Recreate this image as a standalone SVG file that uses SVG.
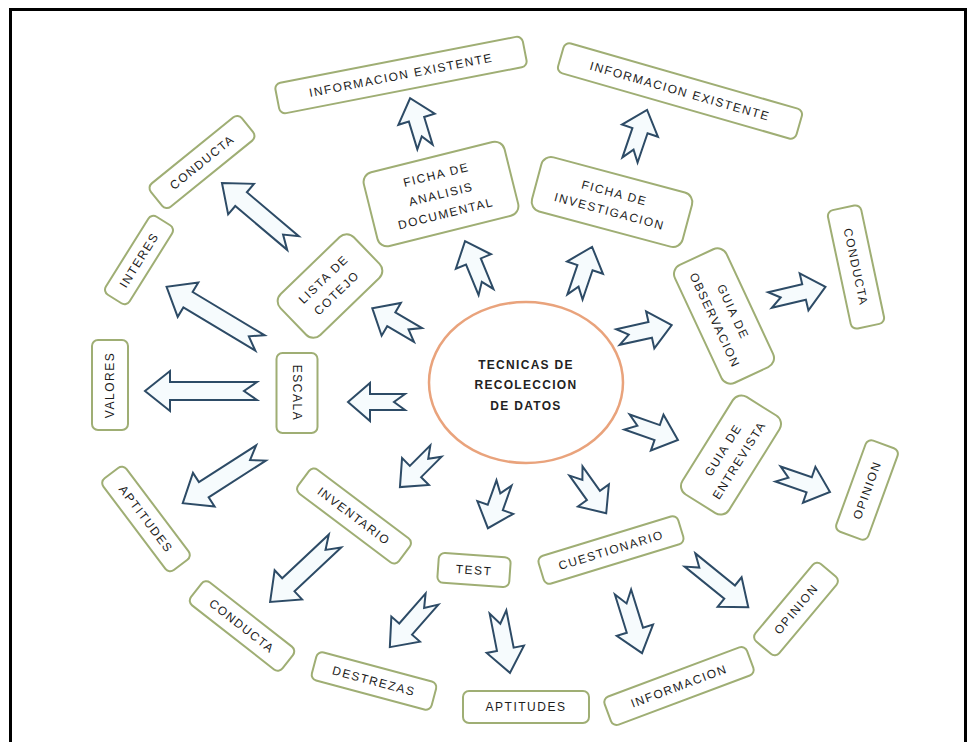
<svg xmlns="http://www.w3.org/2000/svg" width="977" height="742" viewBox="0 0 977 742">
<style>
.box rect{fill:#ffffff;stroke:#9fae74;stroke-width:2}
.box text{font-family:"Liberation Sans",Arial,sans-serif;font-size:12px;letter-spacing:1.5px;fill:#1c1c1c;text-anchor:middle}
.arr path{fill:#f6fbfd;stroke:#2d4b66;stroke-width:2;stroke-linejoin:miter}
.ctr text{font-family:"Liberation Sans",Arial,sans-serif;font-size:12px;font-weight:bold;letter-spacing:1.3px;fill:#222;text-anchor:middle}
</style>
<rect x="0" y="0" width="977" height="742" fill="#ffffff"/>
<rect x="10.5" y="9.5" width="955" height="750" fill="none" stroke="#000" stroke-width="3"/>

<g id="center" class="ctr">
<ellipse cx="526" cy="382.5" rx="97" ry="80.5" fill="#fff" stroke="#e9a37c" stroke-width="2.5"/>
<text x="526" y="369">TECNICAS DE</text>
<text x="526" y="389">RECOLECCION</text>
<text x="526" y="410">DE DATOS</text>
</g>

<g id="connectors" class="arr">
<path transform="translate(425,147) rotate(-107)" d="M0,-8L29,-8L29,-19L51,0L29,19L29,8L0,8L11,0Z"/>
<path transform="translate(630,160) rotate(-71.2)" d="M0,-8L31,-8L31,-19L53,0L31,19L31,8L0,8L11,0Z"/>
<path transform="translate(418,335) rotate(-149.6)" d="M0,-8L31,-8L31,-19L53,0L31,19L31,8L0,8L11,0Z"/>
<path transform="translate(486,292) rotate(-112.4)" d="M0,-8L33,-8L33,-19L55,0L33,19L33,8L0,8L11,0Z"/>
<path transform="translate(575,297) rotate(-71.2)" d="M0,-8L31,-8L31,-19L53,0L31,19L31,8L0,8L11,0Z"/>
<path transform="translate(618,337) rotate(-12.5)" d="M0,-8L33,-8L33,-19L55,0L33,19L33,8L0,8L11,0Z"/>
<path transform="translate(405,402) rotate(180)" d="M0,-8L35,-8L35,-19L57,0L35,19L35,8L0,8L11,0Z"/>
<path transform="translate(627,422) rotate(19.4)" d="M0,-8L32,-8L32,-19L54,0L32,19L32,8L0,8L11,0Z"/>
<path transform="translate(436,451) rotate(135)" d="M0,-8L29,-8L29,-19L51,0L29,19L29,8L0,8L11,0Z"/>
<path transform="translate(504,483) rotate(109.6)" d="M0,-8L26,-8L26,-19L48,0L26,19L26,8L0,8L11,0Z"/>
<path transform="translate(576,471) rotate(54.5)" d="M0,-8L30,-8L30,-19L52,0L30,19L30,8L0,8L11,0Z"/>
<path transform="translate(293,243) rotate(-139.8)" d="M0,-9L68,-9L68,-20L93,0L68,20L68,9L0,9L13,0Z"/>
<path transform="translate(260,343) rotate(-149)" d="M0,-9L84,-9L84,-20L109,0L84,20L84,9L0,9L13,0Z"/>
<path transform="translate(257,391) rotate(180)" d="M0,-9L87,-9L87,-20L112,0L87,20L87,9L0,9L13,0Z"/>
<path transform="translate(261,453) rotate(147.3)" d="M0,-9L68,-9L68,-20L93,0L68,20L68,9L0,9L13,0Z"/>
<path transform="translate(335,541) rotate(136.8)" d="M0,-9L64,-9L64,-20L89,0L64,20L64,9L0,9L13,0Z"/>
<path transform="translate(770,300) rotate(-13.3)" d="M0,-8L35,-8L35,-19L57,0L35,19L35,8L0,8L11,0Z"/>
<path transform="translate(778,474) rotate(19.1)" d="M0,-8L33,-8L33,-19L55,0L33,19L33,8L0,8L11,0Z"/>
<path transform="translate(432,599) rotate(131.2)" d="M0,-8.5L40,-8.5L40,-19L64,0L40,19L40,8.5L0,8.5L12,0Z"/>
<path transform="translate(498,612) rotate(78.9)" d="M0,-8.5L38,-8.5L38,-19L62,0L38,19L38,8.5L0,8.5L12,0Z"/>
<path transform="translate(623,592) rotate(72.7)" d="M0,-8.5L40,-8.5L40,-19L64,0L40,19L40,8.5L0,8.5L12,0Z"/>
<path transform="translate(690,560) rotate(39)" d="M0,-8.5L51,-8.5L51,-19L75,0L51,19L51,8.5L0,8.5L12,0Z"/>
</g>

<g id="info-existente-1" class="box" transform="translate(401,75) rotate(-11)"><rect x="-126" y="-15.5" width="252" height="31" rx="6"/><text y="4.3">INFORMACION EXISTENTE</text></g>
<g id="info-existente-2" class="box" transform="translate(680,91) rotate(16)"><rect x="-124" y="-15.5" width="248" height="31" rx="6"/><text y="4.3">INFORMACION EXISTENTE</text></g>
<g id="conducta-1" class="box" transform="translate(202,162) rotate(-39)"><rect x="-58.5" y="-15" width="117" height="30" rx="6"/><text y="4.3">CONDUCTA</text></g>
<g id="ficha-analisis" class="box" transform="translate(441,194) rotate(-14)"><rect x="-72.5" y="-38" width="145" height="76" rx="10"/><text y="-15.7">FICHA DE</text><text y="4.3">ANALISIS</text><text y="24.3">DOCUMENTAL</text></g>
<g id="ficha-investigacion" class="box" transform="translate(612,202) rotate(15)"><rect x="-78" y="-28" width="156" height="56" rx="10"/><text y="-5.2">FICHA DE</text><text y="13.8">INVESTIGACION</text></g>
<g id="interes" class="box" transform="translate(139,260) rotate(-58)"><rect x="-46" y="-14" width="92" height="28" rx="6"/><text y="4.3">INTERES</text></g>
<g id="lista-cotejo" class="box" transform="translate(330,286) rotate(-44)"><rect x="-51" y="-28.5" width="102" height="57" rx="10"/><text y="-5.2">LISTA DE</text><text y="13.8">COTEJO</text></g>
<g id="guia-observacion" class="box" transform="translate(724,316) rotate(65)"><rect x="-65" y="-28.5" width="130" height="57" rx="10"/><text y="-5.7">GUIA DE</text><text y="14.3">OBSERVACION</text></g>
<g id="conducta-2" class="box" transform="translate(856,267) rotate(78)"><rect x="-60.5" y="-17" width="121" height="34" rx="6"/><text y="4.3">CONDUCTA</text></g>
<g id="valores" class="box" transform="translate(110,385) rotate(-90)"><rect x="-45" y="-18" width="90" height="36" rx="6"/><text y="4.3">VALORES</text></g>
<g id="escala" class="box" transform="translate(297,393) rotate(90)"><rect x="-40" y="-20.5" width="80" height="41" rx="6"/><text y="4.3">ESCALA</text></g>
<g id="aptitudes-1" class="box" transform="translate(146,519) rotate(53)"><rect x="-57.5" y="-14.5" width="115" height="29" rx="6"/><text y="4.3">APTITUDES</text></g>
<g id="inventario" class="box" transform="translate(354,516) rotate(37)"><rect x="-63" y="-15" width="126" height="30" rx="6"/><text y="4.3">INVENTARIO</text></g>
<g id="guia-entrevista" class="box" transform="translate(731,455) rotate(-58)"><rect x="-57.5" y="-27.5" width="115" height="55" rx="10"/><text y="-5.2">GUIA DE</text><text y="13.8">ENTREVISTA</text></g>
<g id="opinion-1" class="box" transform="translate(867,490) rotate(-70)"><rect x="-48.5" y="-17" width="97" height="34" rx="6"/><text y="4.3">OPINION</text></g>
<g id="test" class="box" transform="translate(474,570) rotate(4)"><rect x="-36" y="-15" width="72" height="30" rx="6"/><text y="4.3">TEST</text></g>
<g id="cuestionario" class="box" transform="translate(611,550) rotate(-17)"><rect x="-73" y="-14.5" width="146" height="29" rx="6"/><text y="4.3">CUESTIONARIO</text></g>
<g id="conducta-3" class="box" transform="translate(242,626) rotate(38)"><rect x="-58" y="-14.5" width="116" height="29" rx="6"/><text y="4.3">CONDUCTA</text></g>
<g id="opinion-2" class="box" transform="translate(796,609) rotate(-50)"><rect x="-50.5" y="-15.5" width="101" height="31" rx="6"/><text y="4.3">OPINION</text></g>
<g id="destrezas" class="box" transform="translate(374,681) rotate(15)"><rect x="-62" y="-14.5" width="124" height="29" rx="6"/><text y="4.3">DESTREZAS</text></g>
<g id="aptitudes-2" class="box" transform="translate(526,707)"><rect x="-63" y="-16" width="126" height="32" rx="6"/><text y="4.3">APTITUDES</text></g>
<g id="informacion" class="box" transform="translate(679,686) rotate(-20.5)"><rect x="-76" y="-15" width="152" height="30" rx="6"/><text y="4.3">INFORMACION</text></g>
</svg>
